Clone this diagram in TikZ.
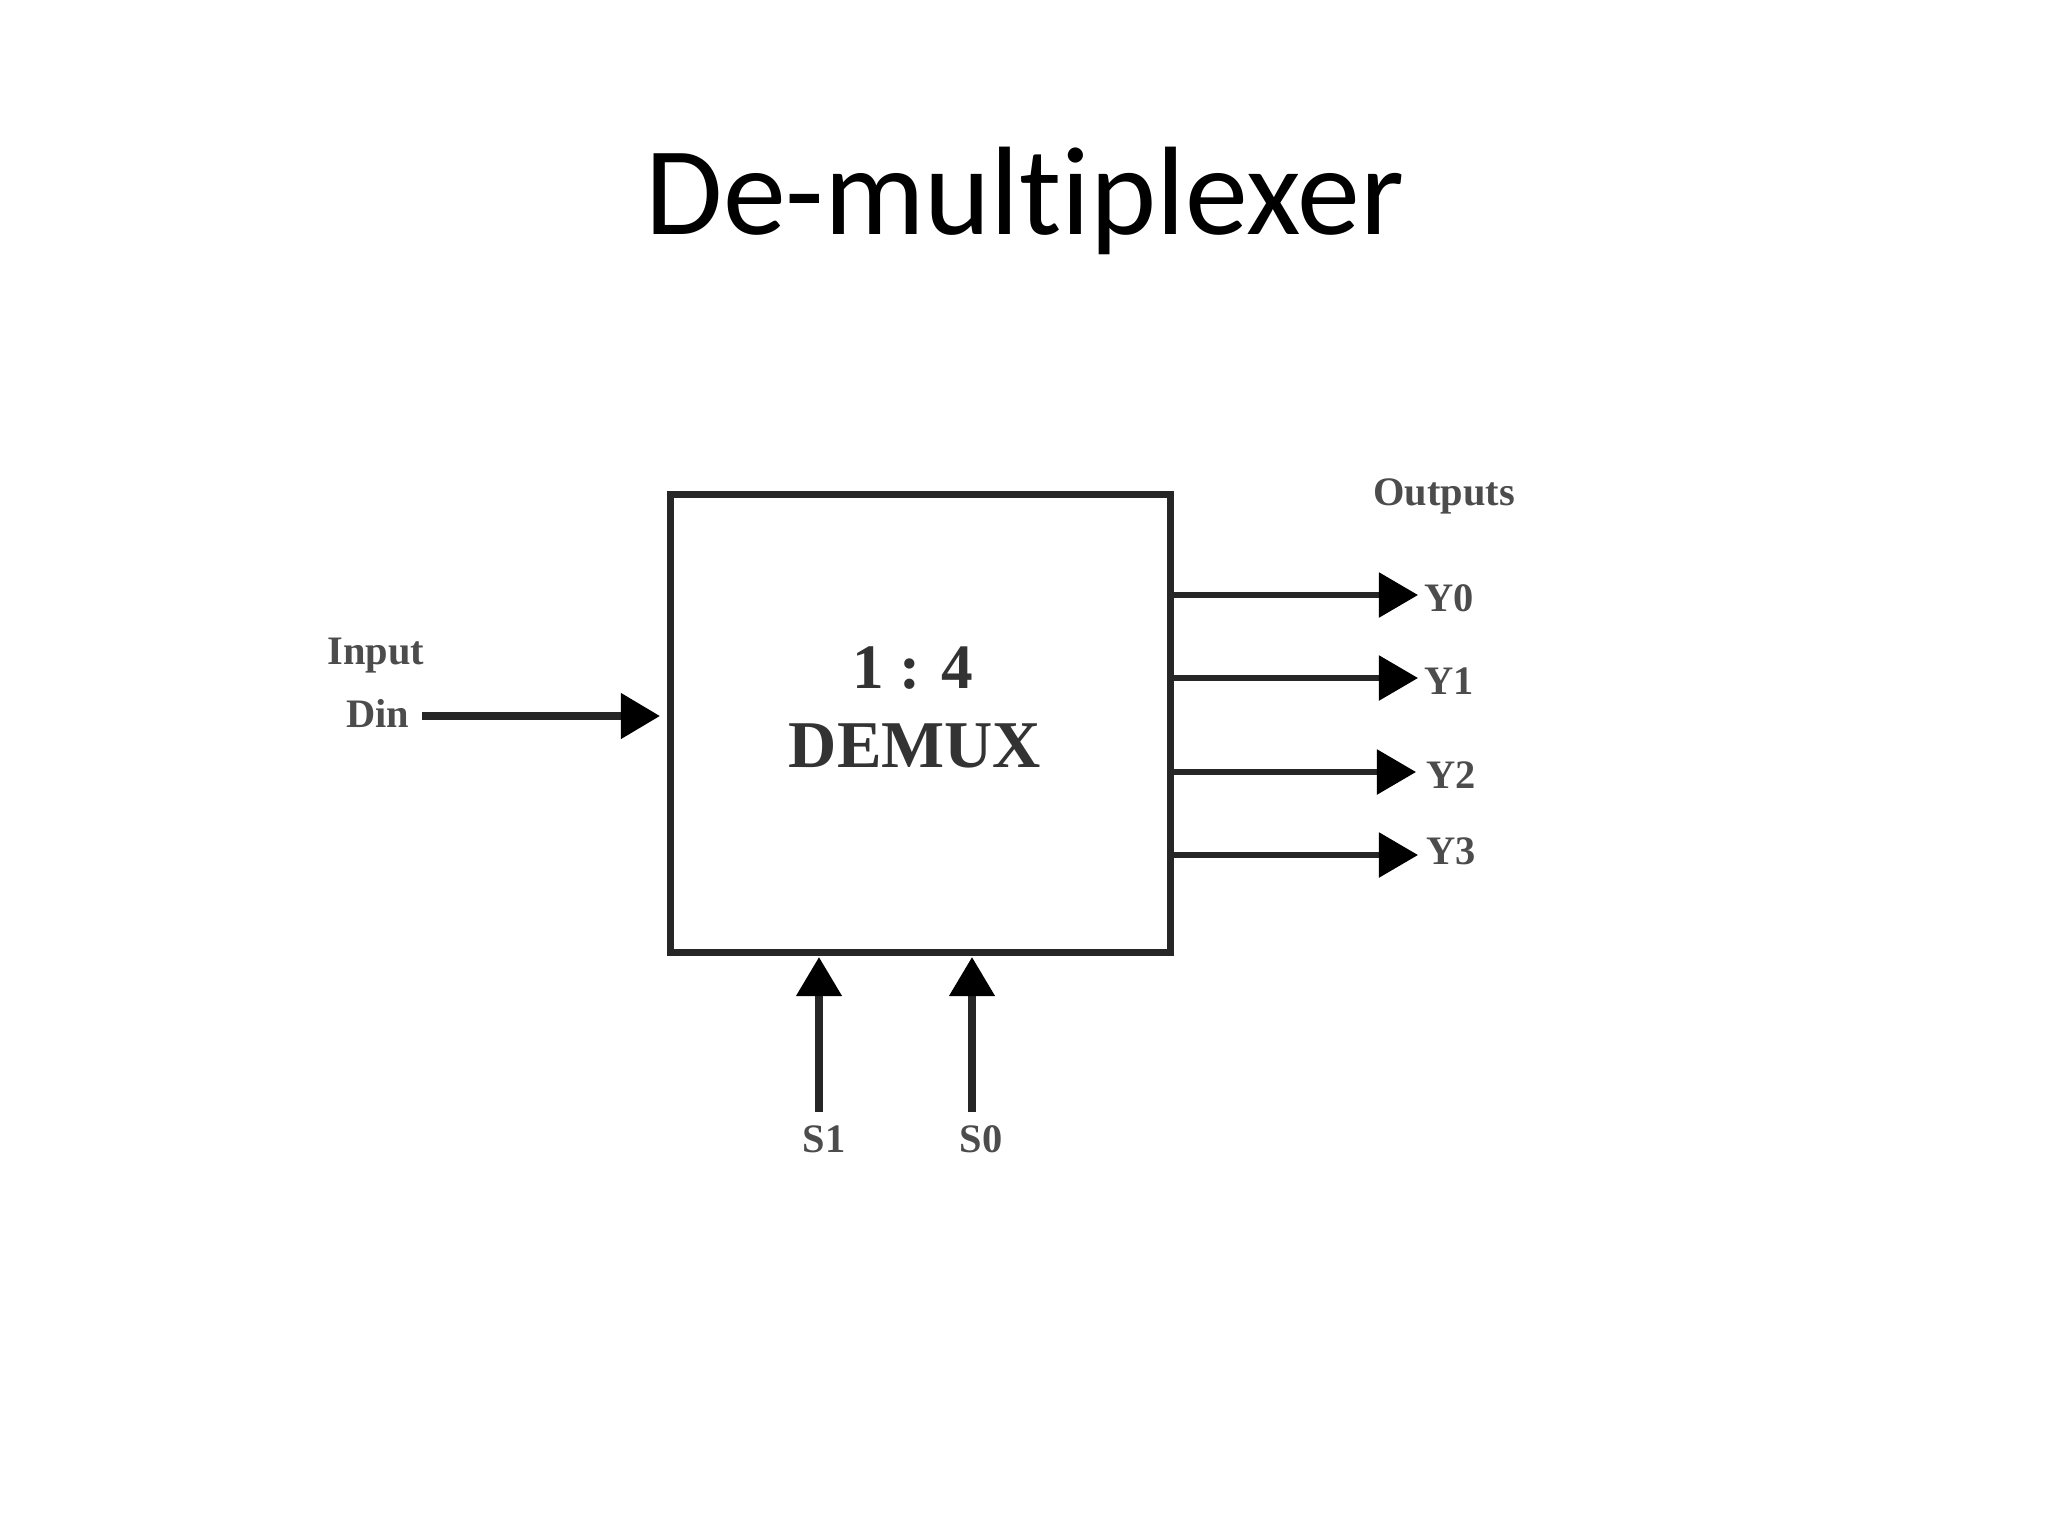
\documentclass[tikz,border=0pt]{standalone}
\usepackage{fontspec}
\setmainfont{Liberation Serif}
\newfontfamily\titlefont[Ligatures=NoCommon]{Carlito}
\usetikzlibrary{arrows.meta}
\tikzset{
  blockbox/.style={draw=black!85,line width=0.75mm,minimum width=5.0cm,minimum height=4.58cm,inner sep=0pt},
  sig/.style={draw=black!85,line width=0.55mm,-{Triangle[length=3.9mm,width=4.4mm,black]}},
  thicksig/.style={sig,line width=0.75mm},
  lab/.style={font=\bfseries\fontsize{11.5}{13}\selectfont,text=black!70,inner sep=0pt},
  big/.style={font=\bfseries\fontsize{19}{22}\selectfont,text=black!80,inner sep=0pt}
}
\begin{document}
\begin{tikzpicture}[x=0.01cm,y=-0.01cm]
\useasboundingbox (0,0) rectangle (2048,1536);
\node[font=\titlefont\fontsize{35.8}{40}\selectfont,inner sep=0pt] (title) at (1025,201) {De-mult\kern0pt iplexer};
\node[blockbox] (box) at (920.5,723.5) {};
\node[big,font=\bfseries\fontsize{18}{21}\selectfont] (ratio) at (913,668) {1 : 4};
\node[big] (dmx) at (915,746) {DEMUX};
\node[lab] (input) at (376,656) {Input};
\node[lab,anchor=east] (din) at (410,713) {Din};
\node[lab] (outs) at (1444,496) {Outputs};
\node[lab,anchor=west] (y0) at (1424,598) {Y0};
\node[lab,anchor=west] (y1) at (1424,681) {Y1};
\node[lab,anchor=west] (y2) at (1426,775) {Y2};
\node[lab,anchor=west] (y3) at (1426,851) {Y3};
\node[lab] (s1) at (824,1139) {S1};
\node[lab] (s0) at (981,1139) {S0};
\coordinate (din0) at (422,716);
\coordinate (din1) at (660,716);
\coordinate (y0a) at (1173,595);
\coordinate (y0b) at (1418,595);
\coordinate (y1a) at (1173,678);
\coordinate (y1b) at (1418,678);
\coordinate (y2a) at (1173,772);
\coordinate (y2b) at (1416,772);
\coordinate (y3a) at (1173,855);
\coordinate (y3b) at (1418,855);
\coordinate (s1a) at (819,1112);
\coordinate (s1b) at (819,957);
\coordinate (s0a) at (972,1112);
\coordinate (s0b) at (972,957);
\draw[thicksig] (din0) -- (din1);
\draw[sig] (y0a) -- (y0b);
\draw[sig] (y1a) -- (y1b);
\draw[sig] (y2a) -- (y2b);
\draw[sig] (y3a) -- (y3b);
\draw[thicksig] (s1a) -- (s1b);
\draw[thicksig] (s0a) -- (s0b);
\end{tikzpicture}
\end{document}
